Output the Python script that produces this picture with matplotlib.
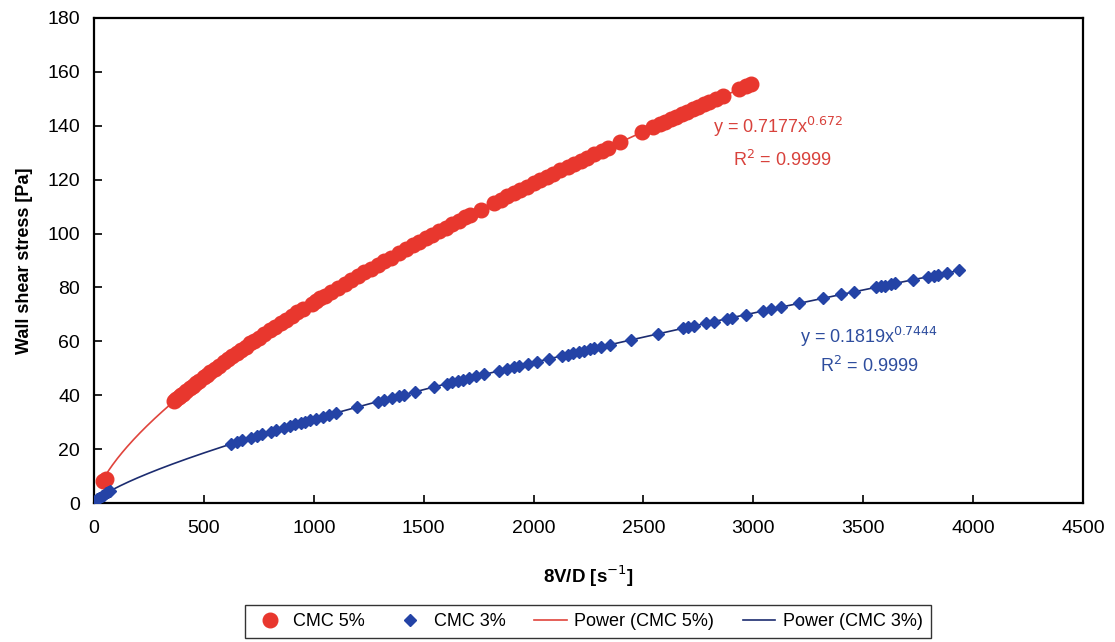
import numpy as np
import matplotlib
matplotlib.use("Agg")
import matplotlib.pyplot as plt

plt.rcParams['font.family'] = ['Liberation Sans', 'DejaVu Sans']

# CMC 5% measurements
x_cmc5 = [40, 55, 365, 375, 385, 395, 405, 420, 435, 450, 465, 480, 500, 515, 530,
          550, 570, 590, 610, 630, 650, 670, 690, 710, 730, 750, 775, 800, 825, 850,
          875, 900, 925, 950, 990, 1010, 1030, 1050, 1080, 1110, 1140, 1170, 1200,
          1230, 1260, 1290, 1320, 1350, 1390, 1420, 1450, 1480, 1510, 1540, 1570,
          1600, 1630, 1660, 1690, 1710, 1760, 1820, 1850, 1880, 1910, 1940, 1970,
          2000, 2030, 2060, 2090, 2120, 2155, 2185, 2215, 2245, 2275, 2310, 2340,
          2395, 2495, 2545, 2575, 2600, 2625, 2650, 2675, 2700, 2725, 2750, 2775,
          2800, 2830, 2860, 2935, 2965, 2990]
y_cmc5 = [8.0, 9.0, 37.9, 38.5, 39.2, 39.9, 40.5, 41.5, 42.5, 43.5, 44.5, 45.4, 46.7,
          47.6, 48.6, 49.8, 51.0, 52.2, 53.4, 54.5, 55.7, 56.9, 58.0, 59.2, 60.3, 61.4,
          62.8, 64.1, 65.5, 66.8, 68.1, 69.4, 70.7, 71.9, 74.0, 75.0, 76.0, 77.0, 78.4,
          79.9, 81.3, 82.8, 84.2, 85.6, 87.0, 88.3, 89.7, 91.1, 92.9, 94.3, 95.6, 96.9,
          98.2, 99.5, 100.8, 102.1, 103.4, 104.7, 106.0, 106.8, 108.9, 111.3, 112.6,
          113.8, 115.0, 116.2, 117.4, 118.6, 119.8, 121.0, 122.2, 123.4, 124.7, 125.9,
          127.1, 128.2, 129.4, 130.7, 131.8, 133.9, 137.7, 139.5, 140.6, 141.5, 142.4,
          143.4, 144.3, 145.2, 146.1, 147.0, 147.9, 148.8, 149.9, 150.9, 153.5, 154.6,
          155.4]

# CMC 3% measurements
x_cmc3 = [5, 15, 25, 35, 45, 55, 65, 75, 625, 650, 675, 715, 740, 765, 805, 830, 865,
          890, 915, 940, 960, 985, 1010, 1040, 1070, 1100, 1195, 1290, 1320, 1355, 1390,
          1410, 1460, 1545, 1605, 1630, 1655, 1680, 1705, 1740, 1775, 1845, 1880, 1910,
          1935, 1975, 2015, 2070, 2130, 2155, 2180, 2205, 2230, 2255, 2275, 2305, 2350,
          2445, 2565, 2680, 2705, 2730, 2785, 2820, 2880, 2905, 2965, 3045, 3080, 3125,
          3210, 3315, 3400, 3460, 3560, 3580, 3600, 3625, 3645, 3725, 3795, 3820, 3840,
          3880, 3935]
y_cmc3 = [0.6, 1.35, 2.0, 2.55, 3.1, 3.6, 4.05, 4.5, 22.0, 22.6, 23.3, 24.3, 24.9, 25.5,
          26.5, 27.1, 28.0, 28.6, 29.2, 29.8, 30.2, 30.8, 31.3, 32.0, 32.7, 33.4, 35.5,
          37.6, 38.2, 39.0, 39.8, 40.2, 41.3, 43.1, 44.3, 44.8, 45.3, 45.8, 46.3, 47.0,
          47.7, 49.1, 49.8, 50.4, 50.9, 51.6, 52.4, 53.5, 54.7, 55.1, 55.6, 56.1, 56.5,
          57.0, 57.4, 57.9, 58.8, 60.6, 62.8, 64.8, 65.3, 65.7, 66.7, 67.3, 68.4, 68.8,
          69.9, 71.3, 71.9, 72.7, 74.2, 76.0, 77.4, 78.4, 80.1, 80.4, 80.7, 81.1, 81.5,
          82.8, 84.0, 84.4, 84.7, 85.4, 86.3]

# power-law fits y = a * x^b
fit_a = [0.7177, 0.1819]
fit_b = [0.672, 0.7444]
fit_r2 = [0.9999, 0.9999]

red_pt = '#E8372E'
red_ln = '#E0443C'
blue_pt = '#2443A6'
blue_ln = '#1C2C70'

fig = plt.figure(figsize=(11.15, 6.42), dpi=100)
ax = fig.add_axes([0.0843, 0.2165, 0.887, 0.7555])

ax.plot(x_cmc5, y_cmc5, 'o', color=red_pt, ms=10.5, mec=red_pt, label='CMC 5%', zorder=3)
ax.plot(x_cmc3, y_cmc3, 'D', color=blue_pt, ms=6, mec=blue_pt, label='CMC 3%', zorder=3)

xf5 = np.linspace(min(x_cmc5), max(x_cmc5), 400)
xf3 = np.linspace(1, max(x_cmc3), 400)
ax.plot(xf5, fit_a[0] * xf5 ** fit_b[0], '-', color=red_ln, lw=1.2,
        label='Power (CMC 5%)', zorder=2)
ax.plot(xf3, fit_a[1] * xf3 ** fit_b[1], '-', color=blue_ln, lw=1.2,
        label='Power (CMC 3%)', zorder=2)

# fit equations
ax.text(2816, 139.6, f'y = {fit_a[0]}x$^{{{fit_b[0]}}}$', color='#D8423C', fontsize=13,
        ha='left', va='center')
ax.text(2907, 127.3, f'R$^2$ = {fit_r2[0]}', color='#D8423C', fontsize=13,
        ha='left', va='center')
ax.text(3212, 61.6, f'y = {fit_a[1]}x$^{{{fit_b[1]}}}$', color='#2E4D9E', fontsize=13,
        ha='left', va='center')
ax.text(3303, 50.9, f'R$^2$ = {fit_r2[1]}', color='#2E4D9E', fontsize=13,
        ha='left', va='center')

ax.set_xlim(0, 4500)
ax.set_ylim(0, 180)
ax.set_xticks(np.arange(0, 4501, 500))
ax.set_yticks(np.arange(0, 181, 20))
ax.tick_params(direction='in', length=6, width=1.2, labelsize=14)
ax.tick_params(axis='x', pad=12)
ax.tick_params(axis='y', pad=10)
for s in ax.spines.values():
    s.set_linewidth(1.6)

ax.set_xlabel('8V/D [s$^{-1}$]', fontsize=13.5, fontweight='bold', labelpad=19)
ax.set_ylabel('Wall shear stress [Pa]', fontsize=13, fontweight='bold', labelpad=10)

leg = fig.legend(loc='upper center', bbox_to_anchor=(588 / 1115, 1 - 596 / 642), ncol=4,
                 fontsize=13, frameon=True, fancybox=False, edgecolor='black',
                 handlelength=1.8, handletextpad=0.4, columnspacing=1.6,
                 borderpad=0.45)
leg.get_frame().set_linewidth(1.0)

fig.savefig('out.png', dpi=100)
